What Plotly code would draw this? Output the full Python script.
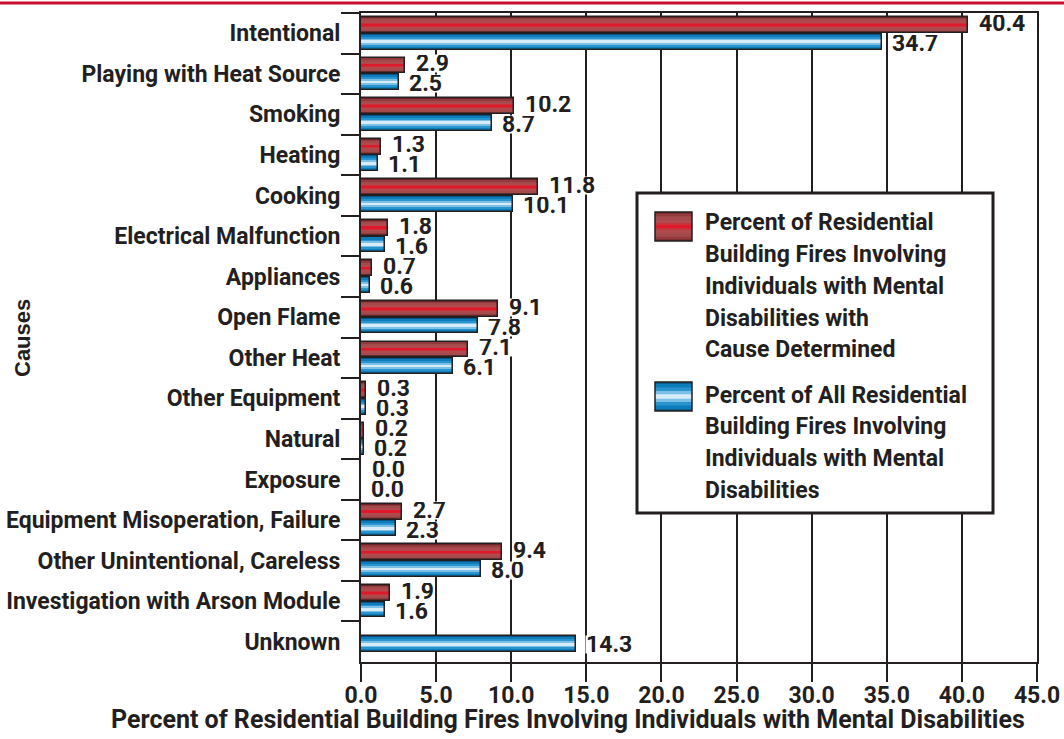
import plotly.graph_objects as go

categories = ["Intentional", "Playing with Heat Source", "Smoking", "Heating", "Cooking",
              "Electrical Malfunction", "Appliances", "Open Flame", "Other Heat",
              "Other Equipment", "Natural", "Exposure", "Equipment Misoperation, Failure",
              "Other Unintentional, Careless", "Investigation with Arson Module", "Unknown"]
pct_cause_determined = [40.4, 2.9, 10.2, 1.3, 11.8, 1.8, 0.7, 9.1, 7.1, 0.3, 0.2, 0.0, 2.7, 9.4, 1.9, None]
pct_all_fires = [34.7, 2.5, 8.7, 1.1, 10.1, 1.6, 0.6, 7.8, 6.1, 0.3, 0.2, 0.0, 2.3, 8.0, 1.6, 14.3]
x_ticks = [0, 5, 10, 15, 20, 25, 30, 35, 40, 45]
legend_red = ["Percent of Residential", "Building Fires Involving", "Individuals with Mental",
              "Disabilities with", "Cause Determined"]
legend_blue = ["Percent of All Residential", "Building Fires Involving",
               "Individuals with Mental", "Disabilities"]
x_title = "Percent of Residential Building Fires Involving Individuals with Mental Disabilities"
y_title = "Causes"

INK = "#231f20"
FONT = "Roboto, sans-serif"
W, H = 1064, 739
ML, MR, MT, MB = 361, 27, 13, 77
PW, PH = W - ML - MR, H - MT - MB

red_layers = [(1.0, "#6a2427"), (0.9, "#933a3d"), (0.7, "#a54a4c"), (0.45, "#b04a4e"),
              (0.22, "#c8303a"), (0.1, "#e0182c")]
blue_layers = [(1.0, "#0a5585"), (0.88, "#0c7cba"), (0.62, "#2a94cf"), (0.38, "#7cc0e6"),
               (0.16, "#d6ecf8")]

BW = 0.39
red_off = [-0.40] * len(categories)
blue_off = [0.01 if r is not None else -0.13 for r in pct_cause_determined]

fig = go.Figure()


def add_gradient_bars(vals, offs, layers):
    for frac, col in layers:
        lw = BW * frac
        fig.add_trace(go.Bar(
            y=categories, x=vals, orientation="h",
            width=lw, offset=[o + (BW - lw) / 2 for o in offs],
            marker=dict(color=col, line=dict(width=0)),
            showlegend=False, hoverinfo="skip"))
    fig.add_trace(go.Bar(
        y=categories, x=vals, orientation="h",
        width=BW, offset=offs,
        marker=dict(color="rgba(0,0,0,0)", line=dict(width=1.5, color=INK)),
        showlegend=False, hoverinfo="skip"))


add_gradient_bars(pct_cause_determined, red_off, red_layers)
add_gradient_bars(pct_all_fires, blue_off, blue_layers)

lab_font = dict(family=FONT, size=23, color=INK, weight="bold")
annotations = []
for c, r, b in zip(categories, pct_cause_determined, pct_all_fires):
    if r is not None:
        annotations.append(dict(x=r, y=c, xref="x", yref="y", text=f"{r:.1f}", showarrow=False,
                                xanchor="left", xshift=10, yshift=10, font=lab_font,
                                bgcolor="white", height=17, borderpad=0))
        bshift = -10
    else:
        bshift = -3
    annotations.append(dict(x=b, y=c, xref="x", yref="y", text=f"{b:.1f}", showarrow=False,
                            xanchor="left", xshift=9, yshift=bshift, font=lab_font,
                            bgcolor="white", height=17, borderpad=0))


def px(xp):
    return (xp - ML) / PW


def py(yp):
    return (MT + PH - yp) / PH


annotations.append(dict(x=px(1027), y=py(719), xref="paper", yref="paper", text=x_title,
                        showarrow=False, xanchor="right", yanchor="middle",
                        font=dict(family=FONT, size=25, color=INK, weight="bold")))
annotations.append(dict(x=px(22), y=py(338), xref="paper", yref="paper", text=y_title,
                        showarrow=False, textangle=-90, xanchor="center", yanchor="middle",
                        font=dict(family="Liberation Sans, Arial, sans-serif", size=22,
                                  color=INK, weight="bold")))

shapes = [
    dict(type="line", xref="paper", yref="paper", x0=px(0), x1=px(W), y0=py(3), y1=py(3),
         line=dict(color="#c8102e", width=3), layer="above"),
    dict(type="rect", xref="paper", yref="paper", x0=px(637), x1=px(993), y0=py(193), y1=py(513),
         fillcolor="white", line=dict(color=INK, width=3), layer="above"),
]


def swatch(y_top, layers):
    x0, x1, h = 655, 692, 29
    for frac, col in layers:
        lh = h * frac
        yt = y_top + (h - lh) / 2
        shapes.append(dict(type="rect", xref="paper", yref="paper", x0=px(x0), x1=px(x1),
                           y0=py(yt), y1=py(yt + lh), fillcolor=col, line=dict(width=0),
                           layer="above"))
    shapes.append(dict(type="rect", xref="paper", yref="paper", x0=px(x0), x1=px(x1),
                       y0=py(y_top), y1=py(y_top + h), fillcolor="rgba(0,0,0,0)",
                       line=dict(color=INK, width=1.5), layer="above"))


swatch(212, red_layers)
swatch(382, blue_layers)

for i, t in enumerate(legend_red):
    annotations.append(dict(x=px(703), y=py(223 + i * 31.7), xref="paper", yref="paper", text=t,
                            showarrow=False, xanchor="left", yanchor="middle", font=lab_font))
for i, t in enumerate(legend_blue):
    annotations.append(dict(x=px(703), y=py(395 + i * 31.7), xref="paper", yref="paper", text=t,
                            showarrow=False, xanchor="left", yanchor="middle", font=lab_font))

fig.update_layout(
    width=W, height=H, margin=dict(l=ML, r=MR, t=MT, b=MB, autoexpand=False),
    paper_bgcolor="white", plot_bgcolor="white",
    barmode="overlay", bargap=0,
    showlegend=False,
    xaxis=dict(range=[0, 45], tickvals=x_ticks, ticktext=[f"{v:.1f}" for v in x_ticks],
               showgrid=True, gridcolor=INK, gridwidth=2, zeroline=False,
               showline=True, linecolor=INK, linewidth=2, mirror=True,
               ticks="outside", ticklen=18, tickwidth=2, tickcolor=INK,
               tickfont=lab_font, ticklabelstandoff=-7, automargin=False),
    yaxis=dict(type="category", categoryorder="array", categoryarray=categories,
               autorange="reversed", showgrid=False, zeroline=False,
               showline=True, linecolor=INK, linewidth=2, mirror=True,
               ticks="outside", ticklen=18, tickwidth=2, tickcolor=INK, tickson="boundaries",
               tickfont=lab_font, ticklabelstandoff=14, automargin=False),
    annotations=annotations, shapes=shapes,
)

fig.write_html("out.html", config={"displayModeBar": False},
               post_script="document.body.style.margin='0px';")
